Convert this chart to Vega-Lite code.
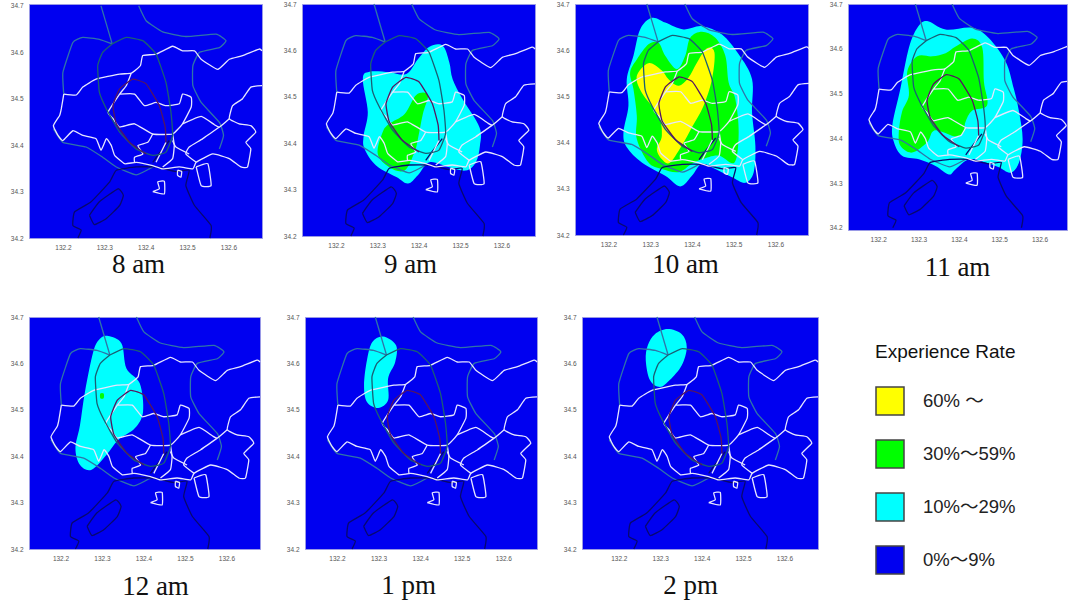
{"$schema":"https://vega.github.io/schema/vega-lite/v6.json","background":"white","padding":{"left":9,"top":0,"right":0,"bottom":0},
"config":{"view":{"fill":"#0000f0","stroke":"#9a9ae6","strokeWidth":1},"axis":{"grid":false,"domain":false,"ticks":false,"labelFont":"Liberation Sans","labelFontSize":6.5,"labelColor":"#555555","labelPadding":6,"titleFont":"Liberation Serif","titleFontWeight":"normal","titleFontSize":27,"titleColor":"#111111","titleBaseline":"middle"}},
"datasets":{
"blobs":[
{"hour":"9 am","level":"10%～29%","seq":1,"lon":132.426,"lat":34.608},{"hour":"9 am","level":"10%～29%","seq":2,"lon":132.458,"lat":34.610},{"hour":"9 am","level":"10%～29%","seq":3,"lon":132.474,"lat":34.574},{"hour":"9 am","level":"10%～29%","seq":4,"lon":132.482,"lat":34.538},{"hour":"9 am","level":"10%～29%","seq":5,"lon":132.506,"lat":34.495},{"hour":"9 am","level":"10%～29%","seq":6,"lon":132.547,"lat":34.434},{"hour":"9 am","level":"10%～29%","seq":7,"lon":132.548,"lat":34.395},{"hour":"9 am","level":"10%～29%","seq":8,"lon":132.538,"lat":34.359},{"hour":"9 am","level":"10%～29%","seq":9,"lon":132.514,"lat":34.341},{"hour":"9 am","level":"10%～29%","seq":10,"lon":132.474,"lat":34.348},{"hour":"9 am","level":"10%～29%","seq":11,"lon":132.426,"lat":34.359},{"hour":"9 am","level":"10%～29%","seq":12,"lon":132.398,"lat":34.331},{"hour":"9 am","level":"10%～29%","seq":13,"lon":132.374,"lat":34.313},{"hour":"9 am","level":"10%～29%","seq":14,"lon":132.346,"lat":34.327},{"hour":"9 am","level":"10%～29%","seq":15,"lon":132.297,"lat":34.352},{"hour":"9 am","level":"10%～29%","seq":16,"lon":132.269,"lat":34.388},{"hour":"9 am","level":"10%～29%","seq":17,"lon":132.267,"lat":34.416},{"hour":"9 am","level":"10%～29%","seq":18,"lon":132.277,"lat":34.467},{"hour":"9 am","level":"10%～29%","seq":19,"lon":132.265,"lat":34.538},{"hour":"9 am","level":"10%～29%","seq":20,"lon":132.281,"lat":34.554},{"hour":"9 am","level":"10%～29%","seq":21,"lon":132.329,"lat":34.553},{"hour":"9 am","level":"10%～29%","seq":22,"lon":132.370,"lat":34.549},{"hour":"9 am","level":"10%～29%","seq":23,"lon":132.398,"lat":34.581},
{"hour":"9 am","level":"30%～59%","seq":1,"lon":132.394,"lat":34.504},{"hour":"9 am","level":"30%～59%","seq":2,"lon":132.422,"lat":34.504},{"hour":"9 am","level":"30%～59%","seq":3,"lon":132.410,"lat":34.463},{"hour":"9 am","level":"30%～59%","seq":4,"lon":132.398,"lat":34.409},{"hour":"9 am","level":"30%～59%","seq":5,"lon":132.390,"lat":34.381},{"hour":"9 am","level":"30%～59%","seq":6,"lon":132.366,"lat":34.341},{"hour":"9 am","level":"30%～59%","seq":7,"lon":132.329,"lat":34.348},{"hour":"9 am","level":"30%～59%","seq":8,"lon":132.301,"lat":34.377},{"hour":"9 am","level":"30%～59%","seq":9,"lon":132.313,"lat":34.424},{"hour":"9 am","level":"30%～59%","seq":10,"lon":132.329,"lat":34.442},{"hour":"9 am","level":"30%～59%","seq":11,"lon":132.366,"lat":34.463},
{"hour":"10 am","level":"10%～29%","seq":1,"lon":132.304,"lat":34.670},{"hour":"10 am","level":"10%～29%","seq":2,"lon":132.336,"lat":34.660},{"hour":"10 am","level":"10%～29%","seq":3,"lon":132.380,"lat":34.645},{"hour":"10 am","level":"10%～29%","seq":4,"lon":132.424,"lat":34.652},{"hour":"10 am","level":"10%～29%","seq":5,"lon":132.472,"lat":34.634},{"hour":"10 am","level":"10%～29%","seq":6,"lon":132.512,"lat":34.591},{"hour":"10 am","level":"10%～29%","seq":7,"lon":132.544,"lat":34.537},{"hour":"10 am","level":"10%～29%","seq":8,"lon":132.544,"lat":34.465},{"hour":"10 am","level":"10%～29%","seq":9,"lon":132.552,"lat":34.393},{"hour":"10 am","level":"10%～29%","seq":10,"lon":132.548,"lat":34.336},{"hour":"10 am","level":"10%～29%","seq":11,"lon":132.528,"lat":34.313},{"hour":"10 am","level":"10%～29%","seq":12,"lon":132.496,"lat":34.325},{"hour":"10 am","level":"10%～29%","seq":13,"lon":132.456,"lat":34.343},{"hour":"10 am","level":"10%～29%","seq":14,"lon":132.424,"lat":34.354},{"hour":"10 am","level":"10%～29%","seq":15,"lon":132.400,"lat":34.328},{"hour":"10 am","level":"10%～29%","seq":16,"lon":132.372,"lat":34.305},{"hour":"10 am","level":"10%～29%","seq":17,"lon":132.336,"lat":34.328},{"hour":"10 am","level":"10%～29%","seq":18,"lon":132.280,"lat":34.357},{"hour":"10 am","level":"10%～29%","seq":19,"lon":132.244,"lat":34.390},{"hour":"10 am","level":"10%～29%","seq":20,"lon":132.236,"lat":34.422},{"hour":"10 am","level":"10%～29%","seq":21,"lon":132.248,"lat":34.480},{"hour":"10 am","level":"10%～29%","seq":22,"lon":132.244,"lat":34.537},{"hour":"10 am","level":"10%～29%","seq":23,"lon":132.260,"lat":34.588},{"hour":"10 am","level":"10%～29%","seq":24,"lon":132.276,"lat":34.645},
{"hour":"10 am","level":"30%～59%","seq":1,"lon":132.268,"lat":34.580},{"hour":"10 am","level":"30%～59%","seq":2,"lon":132.296,"lat":34.613},{"hour":"10 am","level":"30%～59%","seq":3,"lon":132.320,"lat":34.616},{"hour":"10 am","level":"30%～59%","seq":4,"lon":132.336,"lat":34.588},{"hour":"10 am","level":"30%～59%","seq":5,"lon":132.364,"lat":34.559},{"hour":"10 am","level":"30%～59%","seq":6,"lon":132.384,"lat":34.588},{"hour":"10 am","level":"30%～59%","seq":7,"lon":132.396,"lat":34.627},{"hour":"10 am","level":"30%～59%","seq":8,"lon":132.424,"lat":34.640},{"hour":"10 am","level":"30%～59%","seq":9,"lon":132.456,"lat":34.627},{"hour":"10 am","level":"30%～59%","seq":10,"lon":132.480,"lat":34.588},{"hour":"10 am","level":"30%～59%","seq":11,"lon":132.488,"lat":34.530},{"hour":"10 am","level":"30%～59%","seq":12,"lon":132.504,"lat":34.494},{"hour":"10 am","level":"30%～59%","seq":13,"lon":132.512,"lat":34.422},{"hour":"10 am","level":"30%～59%","seq":14,"lon":132.502,"lat":34.357},{"hour":"10 am","level":"30%～59%","seq":15,"lon":132.464,"lat":34.372},{"hour":"10 am","level":"30%～59%","seq":16,"lon":132.424,"lat":34.364},{"hour":"10 am","level":"30%～59%","seq":17,"lon":132.400,"lat":34.354},{"hour":"10 am","level":"30%～59%","seq":18,"lon":132.368,"lat":34.336},{"hour":"10 am","level":"30%～59%","seq":19,"lon":132.328,"lat":34.343},{"hour":"10 am","level":"30%～59%","seq":20,"lon":132.296,"lat":34.357},{"hour":"10 am","level":"30%～59%","seq":21,"lon":132.268,"lat":34.408},{"hour":"10 am","level":"30%～59%","seq":22,"lon":132.268,"lat":34.458},{"hour":"10 am","level":"30%～59%","seq":23,"lon":132.260,"lat":34.516},{"hour":"10 am","level":"30%～59%","seq":24,"lon":132.252,"lat":34.552},
{"hour":"10 am","level":"60% ～","seq":1,"lon":132.296,"lat":34.572},{"hour":"10 am","level":"60% ～","seq":2,"lon":132.328,"lat":34.556},{"hour":"10 am","level":"60% ～","seq":3,"lon":132.344,"lat":34.537},{"hour":"10 am","level":"60% ～","seq":4,"lon":132.368,"lat":34.523},{"hour":"10 am","level":"60% ～","seq":5,"lon":132.392,"lat":34.541},{"hour":"10 am","level":"60% ～","seq":6,"lon":132.412,"lat":34.573},{"hour":"10 am","level":"60% ～","seq":7,"lon":132.436,"lat":34.604},{"hour":"10 am","level":"60% ～","seq":8,"lon":132.454,"lat":34.595},{"hour":"10 am","level":"60% ～","seq":9,"lon":132.448,"lat":34.537},{"hour":"10 am","level":"60% ～","seq":10,"lon":132.428,"lat":34.480},{"hour":"10 am","level":"60% ～","seq":11,"lon":132.400,"lat":34.433},{"hour":"10 am","level":"60% ～","seq":12,"lon":132.380,"lat":34.400},{"hour":"10 am","level":"60% ～","seq":13,"lon":132.348,"lat":34.357},{"hour":"10 am","level":"60% ～","seq":14,"lon":132.328,"lat":34.364},{"hour":"10 am","level":"60% ～","seq":15,"lon":132.316,"lat":34.386},{"hour":"10 am","level":"60% ～","seq":16,"lon":132.328,"lat":34.415},{"hour":"10 am","level":"60% ～","seq":17,"lon":132.320,"lat":34.458},{"hour":"10 am","level":"60% ～","seq":18,"lon":132.280,"lat":34.508},{"hour":"10 am","level":"60% ～","seq":19,"lon":132.268,"lat":34.544},
{"hour":"11 am","level":"10%～29%","seq":1,"lon":132.321,"lat":34.662},{"hour":"11 am","level":"10%～29%","seq":2,"lon":132.367,"lat":34.643},{"hour":"11 am","level":"10%～29%","seq":3,"lon":132.433,"lat":34.647},{"hour":"11 am","level":"10%～29%","seq":4,"lon":132.474,"lat":34.624},{"hour":"11 am","level":"10%～29%","seq":5,"lon":132.516,"lat":34.571},{"hour":"11 am","level":"10%～29%","seq":6,"lon":132.536,"lat":34.511},{"hour":"11 am","level":"10%～29%","seq":7,"lon":132.549,"lat":34.459},{"hour":"11 am","level":"10%～29%","seq":8,"lon":132.558,"lat":34.398},{"hour":"11 am","level":"10%～29%","seq":9,"lon":132.549,"lat":34.346},{"hour":"11 am","level":"10%～29%","seq":10,"lon":132.528,"lat":34.323},{"hour":"11 am","level":"10%～29%","seq":11,"lon":132.499,"lat":34.335},{"hour":"11 am","level":"10%～29%","seq":12,"lon":132.466,"lat":34.346},{"hour":"11 am","level":"10%～29%","seq":13,"lon":132.425,"lat":34.353},{"hour":"11 am","level":"10%～29%","seq":14,"lon":132.392,"lat":34.331},{"hour":"11 am","level":"10%～29%","seq":15,"lon":132.375,"lat":34.319},{"hour":"11 am","level":"10%～29%","seq":16,"lon":132.342,"lat":34.338},{"hour":"11 am","level":"10%～29%","seq":17,"lon":132.301,"lat":34.353},{"hour":"11 am","level":"10%～29%","seq":18,"lon":132.259,"lat":34.361},{"hour":"11 am","level":"10%～29%","seq":19,"lon":132.239,"lat":34.391},{"hour":"11 am","level":"10%～29%","seq":20,"lon":132.235,"lat":34.429},{"hour":"11 am","level":"10%～29%","seq":21,"lon":132.255,"lat":34.511},{"hour":"11 am","level":"10%～29%","seq":22,"lon":132.276,"lat":34.602},{"hour":"11 am","level":"10%～29%","seq":23,"lon":132.297,"lat":34.647},
{"hour":"11 am","level":"30%～59%","seq":1,"lon":132.392,"lat":34.605},{"hour":"11 am","level":"30%～59%","seq":2,"lon":132.433,"lat":34.623},{"hour":"11 am","level":"30%～59%","seq":3,"lon":132.458,"lat":34.602},{"hour":"11 am","level":"30%～59%","seq":4,"lon":132.462,"lat":34.526},{"hour":"11 am","level":"30%～59%","seq":5,"lon":132.470,"lat":34.474},{"hour":"11 am","level":"30%～59%","seq":6,"lon":132.433,"lat":34.462},{"hour":"11 am","level":"30%～59%","seq":7,"lon":132.416,"lat":34.436},{"hour":"11 am","level":"30%～59%","seq":8,"lon":132.412,"lat":34.414},{"hour":"11 am","level":"30%～59%","seq":9,"lon":132.392,"lat":34.404},{"hour":"11 am","level":"30%～59%","seq":10,"lon":132.350,"lat":34.417},{"hour":"11 am","level":"30%～59%","seq":11,"lon":132.334,"lat":34.414},{"hour":"11 am","level":"30%～59%","seq":12,"lon":132.321,"lat":34.391},{"hour":"11 am","level":"30%～59%","seq":13,"lon":132.284,"lat":34.368},{"hour":"11 am","level":"30%～59%","seq":14,"lon":132.255,"lat":34.383},{"hour":"11 am","level":"30%～59%","seq":15,"lon":132.251,"lat":34.414},{"hour":"11 am","level":"30%～59%","seq":16,"lon":132.259,"lat":34.459},{"hour":"11 am","level":"30%～59%","seq":17,"lon":132.276,"lat":34.496},{"hour":"11 am","level":"30%～59%","seq":18,"lon":132.272,"lat":34.549},{"hour":"11 am","level":"30%～59%","seq":19,"lon":132.297,"lat":34.583},{"hour":"11 am","level":"30%～59%","seq":20,"lon":132.334,"lat":34.583},{"hour":"11 am","level":"30%～59%","seq":21,"lon":132.367,"lat":34.590},
{"hour":"12 am","level":"10%～29%","seq":1,"lon":132.315,"lat":34.659},{"hour":"12 am","level":"10%～29%","seq":2,"lon":132.347,"lat":34.643},{"hour":"12 am","level":"10%～29%","seq":3,"lon":132.359,"lat":34.589},{"hour":"12 am","level":"10%～29%","seq":4,"lon":132.391,"lat":34.557},{"hour":"12 am","level":"10%～29%","seq":5,"lon":132.399,"lat":34.496},{"hour":"12 am","level":"10%～29%","seq":6,"lon":132.379,"lat":34.460},{"hour":"12 am","level":"10%～29%","seq":7,"lon":132.339,"lat":34.435},{"hour":"12 am","level":"10%～29%","seq":8,"lon":132.311,"lat":34.403},{"hour":"12 am","level":"10%～29%","seq":9,"lon":132.275,"lat":34.371},{"hour":"12 am","level":"10%～29%","seq":10,"lon":132.247,"lat":34.381},{"hour":"12 am","level":"10%～29%","seq":11,"lon":132.236,"lat":34.417},{"hour":"12 am","level":"10%～29%","seq":12,"lon":132.247,"lat":34.467},{"hour":"12 am","level":"10%～29%","seq":13,"lon":132.259,"lat":34.539},{"hour":"12 am","level":"10%～29%","seq":14,"lon":132.279,"lat":34.625},{"hour":"12 am","level":"10%～29%","seq":15,"lon":132.295,"lat":34.653},
{"hour":"12 am","level":"30%～59%","seq":1,"lon":132.296,"lat":34.535},{"hour":"12 am","level":"30%～59%","seq":2,"lon":132.304,"lat":34.535},{"hour":"12 am","level":"30%～59%","seq":3,"lon":132.304,"lat":34.525},{"hour":"12 am","level":"30%～59%","seq":4,"lon":132.296,"lat":34.525},
{"hour":"1 pm","level":"10%～29%","seq":1,"lon":132.311,"lat":34.658},{"hour":"1 pm","level":"10%～29%","seq":2,"lon":132.342,"lat":34.639},{"hour":"1 pm","level":"10%～29%","seq":3,"lon":132.340,"lat":34.603},{"hour":"1 pm","level":"10%～29%","seq":4,"lon":132.323,"lat":34.568},{"hour":"1 pm","level":"10%～29%","seq":5,"lon":132.323,"lat":34.521},{"hour":"1 pm","level":"10%～29%","seq":6,"lon":132.299,"lat":34.504},{"hour":"1 pm","level":"10%～29%","seq":7,"lon":132.272,"lat":34.517},{"hour":"1 pm","level":"10%～29%","seq":8,"lon":132.265,"lat":34.553},{"hour":"1 pm","level":"10%～29%","seq":9,"lon":132.272,"lat":34.607},{"hour":"1 pm","level":"10%～29%","seq":10,"lon":132.285,"lat":34.646},
{"hour":"2 pm","level":"10%～29%","seq":1,"lon":132.318,"lat":34.674},{"hour":"2 pm","level":"10%～29%","seq":2,"lon":132.352,"lat":34.663},{"hour":"2 pm","level":"10%～29%","seq":3,"lon":132.364,"lat":34.635},{"hour":"2 pm","level":"10%～29%","seq":4,"lon":132.352,"lat":34.596},{"hour":"2 pm","level":"10%～29%","seq":5,"lon":132.323,"lat":34.564},{"hour":"2 pm","level":"10%～29%","seq":6,"lon":132.299,"lat":34.549},{"hour":"2 pm","level":"10%～29%","seq":7,"lon":132.275,"lat":34.564},{"hour":"2 pm","level":"10%～29%","seq":8,"lon":132.265,"lat":34.607},{"hour":"2 pm","level":"10%～29%","seq":9,"lon":132.270,"lat":34.639},{"hour":"2 pm","level":"10%～29%","seq":10,"lon":132.287,"lat":34.663}
],
"lines":[
{"kind":"road","line":"g1","seq":1,"lon":132.292,"lat":34.700},{"kind":"road","line":"g1","seq":2,"lon":132.319,"lat":34.618},
{"kind":"road","line":"g2","seq":1,"lon":132.319,"lat":34.618},{"kind":"road","line":"g2","seq":2,"lon":132.288,"lat":34.628},{"kind":"road","line":"g2","seq":3,"lon":132.248,"lat":34.632},{"kind":"road","line":"g2","seq":4,"lon":132.224,"lat":34.621},{"kind":"road","line":"g2","seq":5,"lon":132.200,"lat":34.557},{"kind":"road","line":"g2","seq":6,"lon":132.202,"lat":34.510},
{"kind":"road","line":"g3","seq":1,"lon":132.177,"lat":34.435},{"kind":"road","line":"g3","seq":2,"lon":132.200,"lat":34.406},{"kind":"road","line":"g3","seq":3,"lon":132.256,"lat":34.396},{"kind":"road","line":"g3","seq":4,"lon":132.296,"lat":34.374},{"kind":"road","line":"g3","seq":5,"lon":132.329,"lat":34.353},{"kind":"road","line":"g3","seq":6,"lon":132.377,"lat":34.336},{"kind":"road","line":"g3","seq":7,"lon":132.417,"lat":34.353},
{"kind":"road","line":"g4","seq":1,"lon":132.383,"lat":34.700},{"kind":"road","line":"g4","seq":2,"lon":132.401,"lat":34.668},{"kind":"road","line":"g4","seq":3,"lon":132.441,"lat":34.644},{"kind":"road","line":"g4","seq":4,"lon":132.497,"lat":34.634},{"kind":"road","line":"g4","seq":5,"lon":132.570,"lat":34.639},{"kind":"road","line":"g4","seq":6,"lon":132.594,"lat":34.625},{"kind":"road","line":"g4","seq":7,"lon":132.578,"lat":34.610},{"kind":"road","line":"g4","seq":8,"lon":132.530,"lat":34.600},{"kind":"road","line":"g4","seq":9,"lon":132.514,"lat":34.571},{"kind":"road","line":"g4","seq":10,"lon":132.514,"lat":34.528},{"kind":"road","line":"g4","seq":11,"lon":132.534,"lat":34.492},{"kind":"road","line":"g4","seq":12,"lon":132.578,"lat":34.449},{"kind":"road","line":"g4","seq":13,"lon":132.588,"lat":34.421},{"kind":"road","line":"g4","seq":14,"lon":132.578,"lat":34.392},
{"kind":"coast","line":"c1","seq":1,"lon":132.236,"lat":34.200},{"kind":"coast","line":"c1","seq":2,"lon":132.244,"lat":34.217},{"kind":"coast","line":"c1","seq":3,"lon":132.224,"lat":34.227},{"kind":"coast","line":"c1","seq":4,"lon":132.228,"lat":34.256},{"kind":"coast","line":"c1","seq":5,"lon":132.268,"lat":34.278},{"kind":"coast","line":"c1","seq":6,"lon":132.313,"lat":34.321},{"kind":"coast","line":"c1","seq":7,"lon":132.329,"lat":34.346},{"kind":"coast","line":"c1","seq":8,"lon":132.377,"lat":34.353},{"kind":"coast","line":"c1","seq":9,"lon":132.425,"lat":34.353},{"kind":"coast","line":"c1","seq":10,"lon":132.473,"lat":34.343},{"kind":"coast","line":"c1","seq":11,"lon":132.505,"lat":34.346},{"kind":"coast","line":"c1","seq":12,"lon":132.497,"lat":34.313},{"kind":"coast","line":"c1","seq":13,"lon":132.518,"lat":34.270},{"kind":"coast","line":"c1","seq":14,"lon":132.558,"lat":34.227},{"kind":"coast","line":"c1","seq":15,"lon":132.555,"lat":34.200},
{"kind":"coast","line":"c2","seq":1,"lon":132.264,"lat":34.249},{"kind":"coast","line":"c2","seq":2,"lon":132.288,"lat":34.278},{"kind":"coast","line":"c2","seq":3,"lon":132.333,"lat":34.306},{"kind":"coast","line":"c2","seq":4,"lon":132.346,"lat":34.292},{"kind":"coast","line":"c2","seq":5,"lon":132.337,"lat":34.270},{"kind":"coast","line":"c2","seq":6,"lon":132.305,"lat":34.242},{"kind":"coast","line":"c2","seq":7,"lon":132.276,"lat":34.229},{"kind":"coast","line":"c2","seq":8,"lon":132.264,"lat":34.249},
{"kind":"coast","line":"c3","seq":1,"lon":132.457,"lat":34.410},{"kind":"coast","line":"c3","seq":2,"lon":132.429,"lat":34.378},{"kind":"coast","line":"c3","seq":3,"lon":132.417,"lat":34.363},
{"kind":"city","line":"w1","seq":1,"lon":132.202,"lat":34.510},{"kind":"city","line":"w1","seq":2,"lon":132.232,"lat":34.508},{"kind":"city","line":"w1","seq":3,"lon":132.248,"lat":34.525},{"kind":"city","line":"w1","seq":4,"lon":132.280,"lat":34.542},{"kind":"city","line":"w1","seq":5,"lon":132.337,"lat":34.553},{"kind":"city","line":"w1","seq":6,"lon":132.365,"lat":34.555},{"kind":"city","line":"w1","seq":7,"lon":132.387,"lat":34.571},{"kind":"city","line":"w1","seq":8,"lon":132.393,"lat":34.593},{"kind":"city","line":"w1","seq":9,"lon":132.425,"lat":34.596},{"kind":"city","line":"w1","seq":10,"lon":132.465,"lat":34.613},{"kind":"city","line":"w1","seq":11,"lon":132.489,"lat":34.603},{"kind":"city","line":"w1","seq":12,"lon":132.518,"lat":34.603},{"kind":"city","line":"w1","seq":13,"lon":132.534,"lat":34.585},{"kind":"city","line":"w1","seq":14,"lon":132.574,"lat":34.563},{"kind":"city","line":"w1","seq":15,"lon":132.602,"lat":34.585},{"kind":"city","line":"w1","seq":16,"lon":132.634,"lat":34.593},{"kind":"city","line":"w1","seq":17,"lon":132.674,"lat":34.607},{"kind":"city","line":"w1","seq":18,"lon":132.681,"lat":34.603},
{"kind":"city","line":"w2","seq":1,"lon":132.202,"lat":34.510},{"kind":"city","line":"w2","seq":2,"lon":132.196,"lat":34.478},{"kind":"city","line":"w2","seq":3,"lon":132.192,"lat":34.464},{"kind":"city","line":"w2","seq":4,"lon":132.177,"lat":34.442},{"kind":"city","line":"w2","seq":5,"lon":132.188,"lat":34.421},{"kind":"city","line":"w2","seq":6,"lon":132.200,"lat":34.410},{"kind":"city","line":"w2","seq":7,"lon":132.224,"lat":34.431},{"kind":"city","line":"w2","seq":8,"lon":132.248,"lat":34.421},{"kind":"city","line":"w2","seq":9,"lon":132.280,"lat":34.414},{"kind":"city","line":"w2","seq":10,"lon":132.292,"lat":34.389},{"kind":"city","line":"w2","seq":11,"lon":132.305,"lat":34.414},{"kind":"city","line":"w2","seq":12,"lon":132.317,"lat":34.399},{"kind":"city","line":"w2","seq":13,"lon":132.325,"lat":34.378},{"kind":"city","line":"w2","seq":14,"lon":132.349,"lat":34.360},{"kind":"city","line":"w2","seq":15,"lon":132.377,"lat":34.363},{"kind":"city","line":"w2","seq":16,"lon":132.417,"lat":34.356},{"kind":"city","line":"w2","seq":17,"lon":132.441,"lat":34.349},{"kind":"city","line":"w2","seq":18,"lon":132.481,"lat":34.353},{"kind":"city","line":"w2","seq":19,"lon":132.514,"lat":34.349},{"kind":"city","line":"w2","seq":20,"lon":132.522,"lat":34.363},{"kind":"city","line":"w2","seq":21,"lon":132.562,"lat":34.381},{"kind":"city","line":"w2","seq":22,"lon":132.602,"lat":34.371},{"kind":"city","line":"w2","seq":23,"lon":132.630,"lat":34.353},{"kind":"city","line":"w2","seq":24,"lon":132.646,"lat":34.353},{"kind":"city","line":"w2","seq":25,"lon":132.654,"lat":34.392},{"kind":"city","line":"w2","seq":26,"lon":132.642,"lat":34.406},{"kind":"city","line":"w2","seq":27,"lon":132.666,"lat":34.428},{"kind":"city","line":"w2","seq":28,"lon":132.654,"lat":34.442},{"kind":"city","line":"w2","seq":29,"lon":132.626,"lat":34.446},{"kind":"city","line":"w2","seq":30,"lon":132.602,"lat":34.457},{"kind":"city","line":"w2","seq":31,"lon":132.610,"lat":34.485},{"kind":"city","line":"w2","seq":32,"lon":132.634,"lat":34.500},{"kind":"city","line":"w2","seq":33,"lon":132.654,"lat":34.525},{"kind":"city","line":"w2","seq":34,"lon":132.681,"lat":34.528},
{"kind":"city","line":"w3","seq":1,"lon":132.365,"lat":34.555},{"kind":"city","line":"w3","seq":2,"lon":132.353,"lat":34.528},{"kind":"city","line":"w3","seq":3,"lon":132.337,"lat":34.510},{"kind":"city","line":"w3","seq":4,"lon":132.309,"lat":34.471},{"kind":"city","line":"w3","seq":5,"lon":132.321,"lat":34.457},{"kind":"city","line":"w3","seq":6,"lon":132.337,"lat":34.439},{"kind":"city","line":"w3","seq":7,"lon":132.373,"lat":34.446},{"kind":"city","line":"w3","seq":8,"lon":132.417,"lat":34.424},{"kind":"city","line":"w3","seq":9,"lon":132.465,"lat":34.424},{"kind":"city","line":"w3","seq":10,"lon":132.489,"lat":34.446},{"kind":"city","line":"w3","seq":11,"lon":132.510,"lat":34.482},{"kind":"city","line":"w3","seq":12,"lon":132.510,"lat":34.503},{"kind":"city","line":"w3","seq":13,"lon":132.489,"lat":34.510},{"kind":"city","line":"w3","seq":14,"lon":132.481,"lat":34.489},{"kind":"city","line":"w3","seq":15,"lon":132.449,"lat":34.485},{"kind":"city","line":"w3","seq":16,"lon":132.425,"lat":34.492},{"kind":"city","line":"w3","seq":17,"lon":132.397,"lat":34.485},{"kind":"city","line":"w3","seq":18,"lon":132.373,"lat":34.510},{"kind":"city","line":"w3","seq":19,"lon":132.337,"lat":34.510},
{"kind":"city","line":"w4","seq":1,"lon":132.489,"lat":34.446},{"kind":"city","line":"w4","seq":2,"lon":132.534,"lat":34.462},{"kind":"city","line":"w4","seq":3,"lon":132.566,"lat":34.444},{"kind":"city","line":"w4","seq":4,"lon":132.578,"lat":34.439},{"kind":"city","line":"w4","seq":5,"lon":132.602,"lat":34.457},
{"kind":"city","line":"w5","seq":1,"lon":132.578,"lat":34.439},{"kind":"city","line":"w5","seq":2,"lon":132.538,"lat":34.414},{"kind":"city","line":"w5","seq":3,"lon":132.505,"lat":34.396},{"kind":"city","line":"w5","seq":4,"lon":132.497,"lat":34.381},{"kind":"city","line":"w5","seq":5,"lon":132.522,"lat":34.363},
{"kind":"city","line":"w6","seq":1,"lon":132.465,"lat":34.410},{"kind":"city","line":"w6","seq":2,"lon":132.473,"lat":34.396},{"kind":"city","line":"w6","seq":3,"lon":132.505,"lat":34.381},
{"kind":"city","line":"w7","seq":1,"lon":132.417,"lat":34.424},{"kind":"city","line":"w7","seq":2,"lon":132.405,"lat":34.406},{"kind":"city","line":"w7","seq":3,"lon":132.381,"lat":34.399},{"kind":"city","line":"w7","seq":4,"lon":132.393,"lat":34.381},{"kind":"city","line":"w7","seq":5,"lon":132.373,"lat":34.374},{"kind":"city","line":"w7","seq":6,"lon":132.373,"lat":34.363},
{"kind":"city","line":"w8","seq":1,"lon":132.465,"lat":34.424},{"kind":"city","line":"w8","seq":2,"lon":132.469,"lat":34.399},{"kind":"city","line":"w8","seq":3,"lon":132.465,"lat":34.371},{"kind":"city","line":"w8","seq":4,"lon":132.441,"lat":34.353},
{"kind":"city","line":"w9","seq":1,"lon":132.449,"lat":34.406},{"kind":"city","line":"w9","seq":2,"lon":132.425,"lat":34.363},
{"kind":"city","line":"i1","seq":1,"lon":132.417,"lat":34.300},{"kind":"city","line":"i1","seq":2,"lon":132.433,"lat":34.306},{"kind":"city","line":"i1","seq":3,"lon":132.429,"lat":34.321},{"kind":"city","line":"i1","seq":4,"lon":132.445,"lat":34.322},{"kind":"city","line":"i1","seq":5,"lon":132.445,"lat":34.295},{"kind":"city","line":"i1","seq":6,"lon":132.417,"lat":34.300},
{"kind":"city","line":"i2","seq":1,"lon":132.477,"lat":34.346},{"kind":"city","line":"i2","seq":2,"lon":132.487,"lat":34.343},{"kind":"city","line":"i2","seq":3,"lon":132.485,"lat":34.331},{"kind":"city","line":"i2","seq":4,"lon":132.477,"lat":34.335},{"kind":"city","line":"i2","seq":5,"lon":132.477,"lat":34.346},
{"kind":"city","line":"i3","seq":1,"lon":132.522,"lat":34.353},{"kind":"city","line":"i3","seq":2,"lon":132.550,"lat":34.360},{"kind":"city","line":"i3","seq":3,"lon":132.558,"lat":34.313},{"kind":"city","line":"i3","seq":4,"lon":132.534,"lat":34.313},{"kind":"city","line":"i3","seq":5,"lon":132.522,"lat":34.353},
{"kind":"ring","line":"r1","seq":1,"lon":132.319,"lat":34.618},{"kind":"ring","line":"r1","seq":2,"lon":132.353,"lat":34.632},{"kind":"ring","line":"r1","seq":3,"lon":132.393,"lat":34.625},{"kind":"ring","line":"r1","seq":4,"lon":132.425,"lat":34.596},{"kind":"ring","line":"r1","seq":5,"lon":132.449,"lat":34.535},{"kind":"ring","line":"r1","seq":6,"lon":132.461,"lat":34.471},{"kind":"ring","line":"r1","seq":7,"lon":132.465,"lat":34.421},{"kind":"ring","line":"r1","seq":8,"lon":132.449,"lat":34.385},{"kind":"ring","line":"r1","seq":9,"lon":132.417,"lat":34.378},{"kind":"ring","line":"r1","seq":10,"lon":132.377,"lat":34.392},{"kind":"ring","line":"r1","seq":11,"lon":132.337,"lat":34.428},{"kind":"ring","line":"r1","seq":12,"lon":132.305,"lat":34.478},{"kind":"ring","line":"r1","seq":13,"lon":132.288,"lat":34.514},{"kind":"ring","line":"r1","seq":14,"lon":132.284,"lat":34.571},{"kind":"ring","line":"r1","seq":15,"lon":132.296,"lat":34.600},{"kind":"ring","line":"r1","seq":16,"lon":132.319,"lat":34.618},
{"kind":"inner","line":"r2","seq":1,"lon":132.449,"lat":34.406},{"kind":"inner","line":"r2","seq":2,"lon":132.447,"lat":34.439},{"kind":"inner","line":"r2","seq":3,"lon":132.433,"lat":34.485},{"kind":"inner","line":"r2","seq":4,"lon":132.401,"lat":34.532},{"kind":"inner","line":"r2","seq":5,"lon":132.369,"lat":34.542},{"kind":"inner","line":"r2","seq":6,"lon":132.337,"lat":34.521},{"kind":"inner","line":"r2","seq":7,"lon":132.321,"lat":34.485},{"kind":"inner","line":"r2","seq":8,"lon":132.329,"lat":34.446},{"kind":"inner","line":"r2","seq":9,"lon":132.361,"lat":34.406},{"kind":"inner","line":"r2","seq":10,"lon":132.401,"lat":34.381}
]},
"vconcat":[
{"hconcat":[
{"width":233,"height":234,"layer":[{"data":{"name":"lines"},"mark":{"type":"line","strokeWidth":1.3,"interpolate":"cardinal","tension":0.6},"encoding":{"x":{"field":"lon","type":"quantitative","scale":{"domain":[132.118,132.681],"nice":false,"zero":false},"axis":{"values":[132.2,132.3,132.4,132.5,132.6],"format":".1f","title":"8 am","titleX":109,"titleY":26}},"y":{"field":"lat","type":"quantitative","scale":{"domain":[34.2,34.704],"nice":false,"zero":false},"axis":{"values":[34.2,34.3,34.4,34.5,34.6,34.7],"format":".1f","title":null}},"order":{"field":"seq"},"detail":{"field":"line"},"stroke":{"field":"kind","scale":{"domain":["road","coast","city","ring","inner"],"range":["#2f74a8","#08086e","#e6e6ff","#1a5f74","#55155f"]},"legend":null}}}]},
{"width":233,"height":232,"layer":[{"data":{"name":"blobs"},"transform":[{"filter":"datum.hour==='9 am'"}],"mark":{"type":"line","interpolate":"cardinal-closed","strokeWidth":0},"encoding":{"x":{"field":"lon","type":"quantitative","scale":{"domain":[132.118,132.681],"nice":false,"zero":false},"axis":{"values":[132.2,132.3,132.4,132.5,132.6],"format":".1f","title":"9 am","titleX":108,"titleY":28}},"y":{"field":"lat","type":"quantitative","scale":{"domain":[34.2,34.7],"nice":false,"zero":false},"axis":{"values":[34.2,34.3,34.4,34.5,34.6,34.7],"format":".1f","title":null}},"order":{"field":"seq"},"fill":{"field":"level","scale":{"domain":["60% ～","30%～59%","10%～29%","0%～9%"],"range":["#ffff00","#00ff00","#00ffff","#0000f0"]},"legend":null}}},{"data":{"name":"lines"},"mark":{"type":"line","strokeWidth":1.3,"interpolate":"cardinal","tension":0.6},"encoding":{"x":{"field":"lon","type":"quantitative"},"y":{"field":"lat","type":"quantitative"},"order":{"field":"seq"},"detail":{"field":"line"},"stroke":{"field":"kind","scale":{"domain":["road","coast","city","ring","inner"],"range":["#2f74a8","#08086e","#e6e6ff","#1a5f74","#55155f"]},"legend":null}}}]},
{"width":233,"height":231,"layer":[{"data":{"name":"blobs"},"transform":[{"filter":"datum.hour==='10 am'"}],"mark":{"type":"line","interpolate":"cardinal-closed","strokeWidth":0},"encoding":{"x":{"field":"lon","type":"quantitative","scale":{"domain":[132.12,132.678],"nice":false,"zero":false},"axis":{"values":[132.2,132.3,132.4,132.5,132.6],"format":".1f","title":"10 am","titleX":110,"titleY":29}},"y":{"field":"lat","type":"quantitative","scale":{"domain":[34.2,34.7],"nice":false,"zero":false},"axis":{"values":[34.2,34.3,34.4,34.5,34.6,34.7],"format":".1f","title":null}},"order":{"field":"seq"},"fill":{"field":"level","scale":{"domain":["60% ～","30%～59%","10%～29%","0%～9%"],"range":["#ffff00","#00ff00","#00ffff","#0000f0"]},"legend":null}}},{"data":{"name":"lines"},"mark":{"type":"line","strokeWidth":1.3,"interpolate":"cardinal","tension":0.6},"encoding":{"x":{"field":"lon","type":"quantitative"},"y":{"field":"lat","type":"quantitative"},"order":{"field":"seq"},"detail":{"field":"line"},"stroke":{"field":"kind","scale":{"domain":["road","coast","city","ring","inner"],"range":["#2f74a8","#08086e","#e6e6ff","#1a5f74","#55155f"]},"legend":null}}}]},
{"width":219,"height":226,"layer":[{"data":{"name":"blobs"},"transform":[{"filter":"datum.hour==='11 am'"}],"mark":{"type":"line","interpolate":"cardinal-closed","strokeWidth":0},"encoding":{"x":{"field":"lon","type":"quantitative","scale":{"domain":[132.125,132.668],"nice":false,"zero":false},"axis":{"values":[132.2,132.3,132.4,132.5,132.6],"format":".1f","title":"11 am","titleX":109,"titleY":37}},"y":{"field":"lat","type":"quantitative","scale":{"domain":[34.195,34.7],"nice":false,"zero":false},"axis":{"values":[34.2,34.3,34.4,34.5,34.6,34.7],"format":".1f","title":null}},"order":{"field":"seq"},"fill":{"field":"level","scale":{"domain":["60% ～","30%～59%","10%～29%","0%～9%"],"range":["#ffff00","#00ff00","#00ffff","#0000f0"]},"legend":null}}},{"data":{"name":"lines"},"mark":{"type":"line","strokeWidth":1.3,"clip":true,"interpolate":"cardinal","tension":0.6},"encoding":{"x":{"field":"lon","type":"quantitative"},"y":{"field":"lat","type":"quantitative"},"order":{"field":"seq"},"detail":{"field":"line"},"stroke":{"field":"kind","scale":{"domain":["road","coast","city","ring","inner"],"range":["#2f74a8","#08086e","#e6e6ff","#1a5f74","#55155f"]},"legend":null}}}]}
],"spacing":40,"bounds":"flush"},
{"resolve":{"scale":{"fill":"independent","stroke":"independent"},"legend":{"fill":"independent","stroke":"independent"}},"hconcat":[
{"width":231,"height":232,"layer":[{"data":{"name":"blobs"},"transform":[{"filter":"datum.hour==='12 am'"}],"mark":{"type":"line","interpolate":"cardinal-closed","strokeWidth":0},"encoding":{"x":{"field":"lon","type":"quantitative","scale":{"domain":[132.124,132.681],"nice":false,"zero":false},"axis":{"values":[132.2,132.3,132.4,132.5,132.6],"format":".1f","title":"12 am","titleX":126,"titleY":37}},"y":{"field":"lat","type":"quantitative","scale":{"domain":[34.2,34.7],"nice":false,"zero":false},"axis":{"values":[34.2,34.3,34.4,34.5,34.6,34.7],"format":".1f","title":null}},"order":{"field":"seq"},"fill":{"field":"level","scale":{"domain":["60% ～","30%～59%","10%～29%","0%～9%"],"range":["#ffff00","#00ff00","#00ffff","#0000f0"]},"legend":null}}},{"data":{"name":"lines"},"mark":{"type":"line","strokeWidth":1.3,"interpolate":"cardinal","tension":0.6},"encoding":{"x":{"field":"lon","type":"quantitative"},"y":{"field":"lat","type":"quantitative"},"order":{"field":"seq"},"detail":{"field":"line"},"stroke":{"field":"kind","scale":{"domain":["road","coast","city","ring","inner"],"range":["#2f74a8","#08086e","#e6e6ff","#1a5f74","#55155f"]},"legend":null}}}]},
{"width":232,"height":232,"layer":[{"data":{"name":"blobs"},"transform":[{"filter":"datum.hour==='1 pm'"}],"mark":{"type":"line","interpolate":"cardinal-closed","strokeWidth":0},"encoding":{"x":{"field":"lon","type":"quantitative","scale":{"domain":[132.123,132.681],"nice":false,"zero":false},"axis":{"values":[132.2,132.3,132.4,132.5,132.6],"format":".1f","title":"1 pm","titleX":103,"titleY":36}},"y":{"field":"lat","type":"quantitative","scale":{"domain":[34.2,34.7],"nice":false,"zero":false},"axis":{"values":[34.2,34.3,34.4,34.5,34.6,34.7],"format":".1f","title":null}},"order":{"field":"seq"},"fill":{"field":"level","scale":{"domain":["60% ～","30%～59%","10%～29%","0%～9%"],"range":["#ffff00","#00ff00","#00ffff","#0000f0"]},"legend":null}}},{"data":{"name":"lines"},"mark":{"type":"line","strokeWidth":1.3,"interpolate":"cardinal","tension":0.6},"encoding":{"x":{"field":"lon","type":"quantitative"},"y":{"field":"lat","type":"quantitative"},"order":{"field":"seq"},"detail":{"field":"line"},"stroke":{"field":"kind","scale":{"domain":["road","coast","city","ring","inner"],"range":["#2f74a8","#08086e","#e6e6ff","#1a5f74","#55155f"]},"legend":null}}}]},
{"width":236,"height":232,"layer":[{"data":{"name":"blobs"},"transform":[{"filter":"datum.hour==='2 pm'"}],"mark":{"type":"line","interpolate":"cardinal-closed","strokeWidth":0},"encoding":{"x":{"field":"lon","type":"quantitative","scale":{"domain":[132.111,132.681],"nice":false,"zero":false},"axis":{"values":[132.2,132.3,132.4,132.5,132.6],"format":".1f","title":"2 pm","titleX":108,"titleY":36}},"y":{"field":"lat","type":"quantitative","scale":{"domain":[34.2,34.7],"nice":false,"zero":false},"axis":{"values":[34.2,34.3,34.4,34.5,34.6,34.7],"format":".1f","title":null}},"order":{"field":"seq"},"fill":{"field":"level","scale":{"domain":["60% ～","30%～59%","10%～29%","0%～9%"],"range":["#ffff00","#00ff00","#00ffff","#0000f0"]},"legend":{"title":"Experience Rate","orient":"none","legendX":293,"legendY":26,"symbolType":"square","symbolSize":784,"symbolStrokeColor":"#444444","symbolStrokeWidth":1.5,"symbolOpacity":1,"rowPadding":19,"labelFont":"Liberation Sans, Noto Sans CJK JP","labelFontSize":18.5,"labelColor":"#222222","labelOffset":18,"titleFont":"Liberation Sans","titleFontSize":19,"titleFontWeight":"normal","titleColor":"#111111","titlePadding":24}}}},{"data":{"name":"lines"},"mark":{"type":"line","strokeWidth":1.3,"interpolate":"cardinal","tension":0.6},"encoding":{"x":{"field":"lon","type":"quantitative"},"y":{"field":"lat","type":"quantitative"},"order":{"field":"seq"},"detail":{"field":"line"},"stroke":{"field":"kind","scale":{"domain":["road","coast","city","ring","inner"],"range":["#2f74a8","#08086e","#e6e6ff","#1a5f74","#55155f"]},"legend":null}}}]}
],"spacing":45,"bounds":"flush"}
],"spacing":32}
